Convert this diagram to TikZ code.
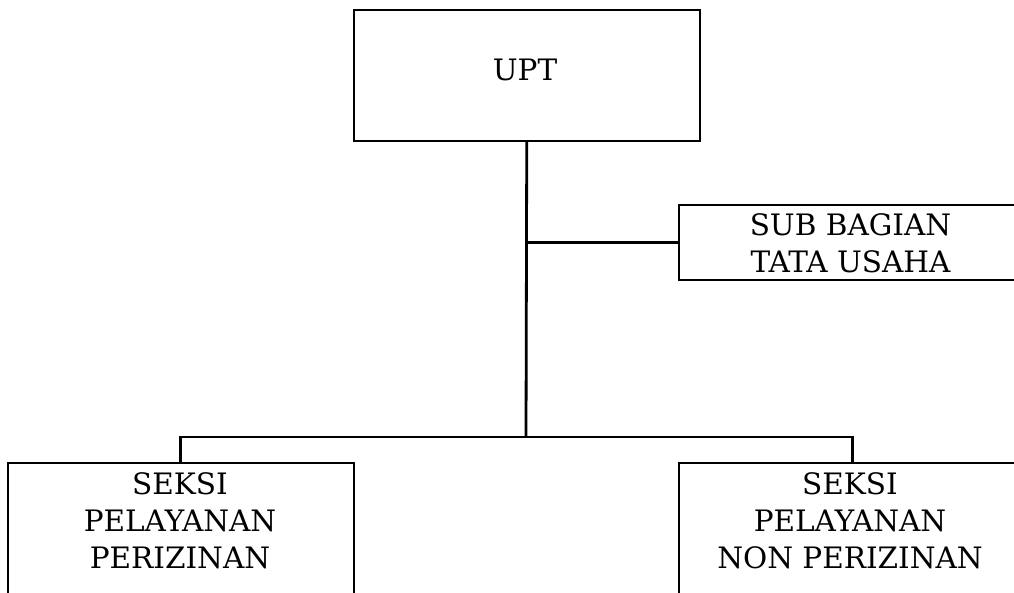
\documentclass[tikz,border=0pt]{standalone}
\usepackage{fontspec}
\setmainfont{DejaVu Serif}
\begin{document}
\begin{tikzpicture}[x=1pt,y=-1pt,
  box/.style={draw=black,line width=1.5pt,rectangle,inner sep=0pt,anchor=north west},
  conn/.style={draw=black,line width=2.8pt},
  lbl/.style={inner sep=0pt,align=center,font=\fontsize{29.5}{37}\selectfont}]
\useasboundingbox (0,0) rectangle (1014,592);
\clip (0,0) rectangle (1014,592);
\node[box,minimum width=346pt,minimum height=131pt] (upt) at (353,9) {};
\node[lbl] (tupt) at (525,70) {UPT};
\node[box,minimum width=352pt,minimum height=75pt] (sub) at (678,204) {};
\node[lbl] (tsub) at (850.5,243) {SUB BAGIAN\\TATA USAHA};
\node[box,minimum width=346pt,minimum height=170pt] (left) at (7,462) {};
\node[lbl] (tleft) at (180,520.5) {SEKSI\\PELAYANAN\\PERIZINAN};
\node[box,minimum width=348pt,minimum height=170pt] (right) at (678,462) {};
\node[lbl] (tright) at (850,520.5) {SEKSI\\PELAYANAN\\NON PERIZINAN};
\coordinate (j) at (526,437);
\draw[conn] (upt.south) -- (j);
\draw[conn] (upt.south |- sub.west) -- (sub.west);
\draw[conn] (left.north) |- (right.north |- j) -- (right.north);
\end{tikzpicture}
\end{document}
